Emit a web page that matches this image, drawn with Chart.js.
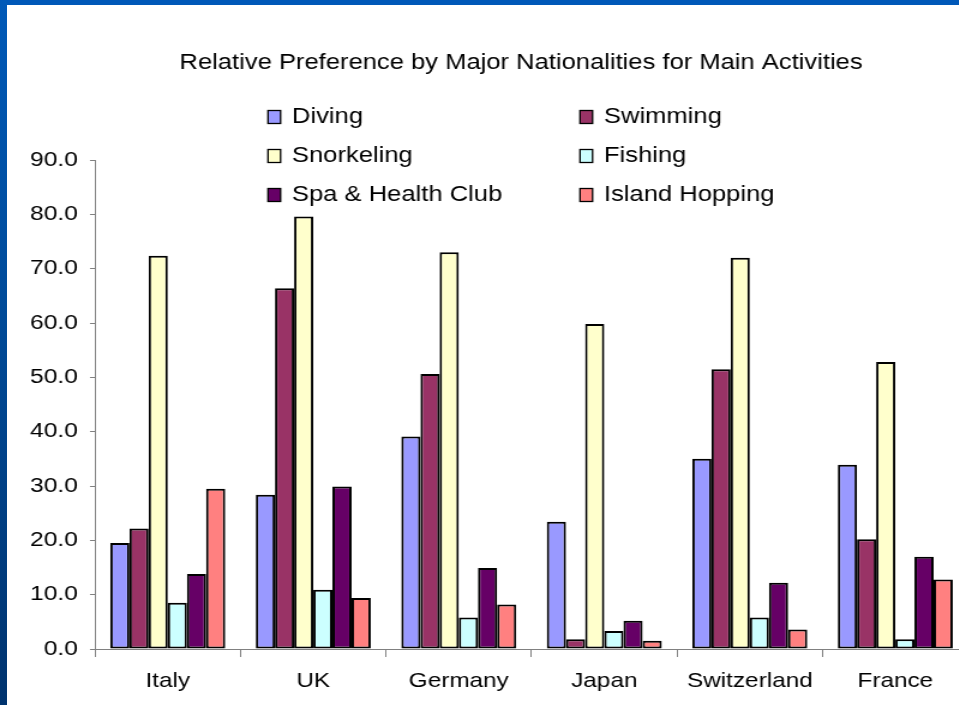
<!DOCTYPE html>
<html>
<head>
<meta charset="utf-8">
<script src="https://cdn.jsdelivr.net/npm/chart.js@4/dist/chart.umd.min.js"></script>
<style>
  html, body { margin: 0; padding: 0; background: #ffffff; overflow: hidden; width: 959px; height: 705px; }
  #wrap { position: absolute; left: 0; top: 0; width: 868px; height: 705px; transform: scaleX(1.2); transform-origin: 0 0; }
  #frameTop { position: absolute; left: 0; top: 0; width: 959px; height: 5px; background: #0058b8; z-index: 5; }
  #frameLeft { position: absolute; left: 0; top: 0; width: 7px; height: 705px; z-index: 5;
    background: linear-gradient(to bottom, #0059b8 0%, #004a98 45%, #00336e 100%); }
</style>
</head>
<body>
<div id="wrap"><canvas id="c" width="868" height="705"></canvas></div>
<div id="frameTop"></div>
<div id="frameLeft"></div>
<script>
const categories = ['Italy', 'UK', 'Germany', 'Japan', 'Switzerland', 'France'];
const seriesNames = ['Diving', 'Swimming', 'Snorkeling', 'Fishing', 'Spa & Health Club', 'Island Hopping'];
const diving        = [19.5, 28.4, 39.1, 23.4, 35.0, 33.9];
const swimming      = [22.2, 66.4, 50.6, 1.8, 51.5, 20.2];
const snorkeling    = [72.4, 79.6, 73.0, 59.8, 72.0, 52.8];
const fishing       = [8.5, 10.9, 5.8, 3.3, 5.8, 1.8];
const spaHealthClub = [13.8, 29.9, 14.9, 5.2, 12.2, 17.0];
const islandHopping = [29.5, 9.4, 8.2, 1.5, 3.6, 12.8];
const yTicks = [0, 10, 20, 30, 40, 50, 60, 70, 80, 90];
const titleText = 'Relative Preference by Major Nationalities for Main Activities';

const colors = ['#9999ff', '#993366', '#ffffcc', '#ccffff', '#660066', '#ff8080'];
const values = [diving, swimming, snorkeling, fishing, spaHealthClub, islandHopping];

Chart.defaults.font.family = "'Liberation Sans', Arial, sans-serif";
Chart.defaults.color = '#000000';

const headerPlugin = {
  id: 'header',
  afterDraw(chart) {
    const ctx = chart.ctx;
    ctx.save();
    // title
    ctx.font = "21.3px 'Liberation Sans', Arial, sans-serif";
    ctx.fillStyle = '#000000';
    ctx.textAlign = 'center';
    ctx.textBaseline = 'middle';
    ctx.fillText(titleText, 434.2, 63);
    // two-column legend
    ctx.textAlign = 'left';
    const colBox = [223.3, 483.3];
    const colText = [243.3, 503.3];
    const rowY = [117, 156, 195];
    chart.data.datasets.forEach((ds, i) => {
      const col = i % 2, row = Math.floor(i / 2);
      const y = rowY[row];
      ctx.fillStyle = ds.backgroundColor;
      ctx.fillRect(colBox[col], y - 6.5, 10.5, 13);
      ctx.lineWidth = 1.3;
      ctx.strokeStyle = '#000000';
      ctx.strokeRect(colBox[col], y - 6.5, 10.5, 13);
      ctx.fillStyle = '#000000';
      ctx.fillText(ds.label, colText[col], y);
    });
    ctx.restore();
  }
};

new Chart(document.getElementById('c'), {
  type: 'bar',
  data: {
    labels: categories,
    datasets: seriesNames.map((name, i) => ({
      label: name,
      data: values[i],
      backgroundColor: colors[i],
      borderColor: '#000000',
      borderWidth: 2,
      borderSkipped: false,
      categoryPercentage: 0.79,
      barPercentage: 1.0
    }))
  },
  options: {
    responsive: false,
    animation: false,
    devicePixelRatio: 1,
    layout: { padding: { left: 0, right: 61.3, top: 160, bottom: 0 } },
    plugins: {
      legend: { display: false },
      tooltip: { enabled: false },
      title: { display: false }
    },
    scales: {
      x: {
        grid: { display: true, drawOnChartArea: false, drawTicks: true, tickLength: 8, color: '#808080', offset: true },
        border: { display: true, color: '#808080', width: 1 },
        ticks: { font: { size: 20.3 }, color: '#000000', padding: 12, maxRotation: 0 },
        afterFit(scale) { scale.height = 56; }
      },
      y: {
        min: 0, max: 90,
        afterBuildTicks(scale) { scale.ticks = yTicks.map(v => ({ value: v })); },
        grid: { display: true, drawOnChartArea: false, drawTicks: true, tickLength: 4.2, color: '#808080' },
        border: { display: true, color: '#808080', width: 1 },
        ticks: { font: { size: 20.5 }, color: '#000000', padding: 10, callback: v => Number(v).toFixed(1) },
        afterFit(scale) { scale.width = 79.17; }
      }
    }
  },
  plugins: [headerPlugin]
});
</script>
</body>
</html>
